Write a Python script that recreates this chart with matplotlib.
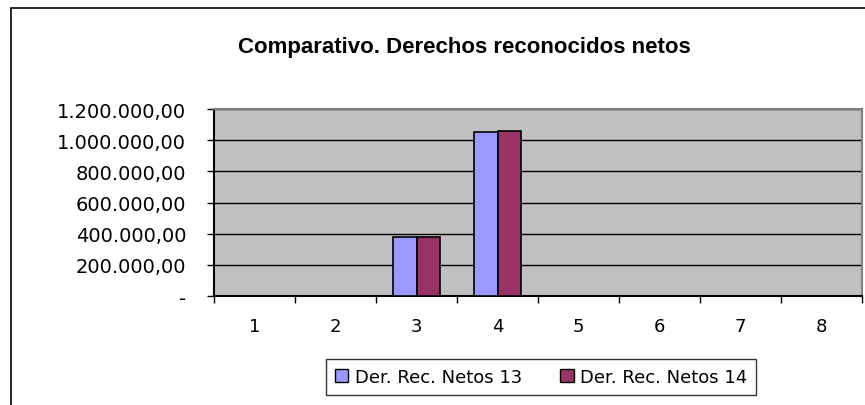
import numpy as np
import matplotlib
matplotlib.use("Agg")
import matplotlib.pyplot as plt
from matplotlib.patches import Rectangle, Patch
from matplotlib.ticker import FuncFormatter

categories = ["1", "2", "3", "4", "5", "6", "7", "8"]
netos13 = [0, 0, 376000, 1054000, 0, 0, 0, 0]
netos14 = [0, 0, 378000, 1059000, 0, 0, 0, 0]
series_names = ["Der. Rec. Netos 13", "Der. Rec. Netos 14"]
y_ticks = [0, 200000, 400000, 600000, 800000, 1000000, 1200000]


def es_fmt(v, pos=None):
    if v == 0:
        return "-"
    s = f"{v:,.2f}"
    return s.replace(",", "X").replace(".", ",").replace("X", ".")


fig = plt.figure(figsize=(8.65, 4.06), dpi=100)
fig.patch.set_facecolor("white")

# outer chart frame (cut off on the right and bottom)
top = 1 - 9 / 406
fig.patches.append(Rectangle((11 / 865, -0.2), 1.2, top + 0.2,
                             transform=fig.transFigure, fill=False,
                             edgecolor="black", linewidth=1.2))

ax = fig.add_axes([214 / 865, 1 - 297 / 406, (862 - 214) / 865, (297 - 110) / 406])
ax.set_facecolor("#C0C0C0")

x = np.arange(len(categories))
w = 0.286
ax.bar(x - w / 2, netos13, w, color="#9999FF", edgecolor="black", linewidth=1.2, zorder=3)
ax.bar(x + w / 2, netos14, w, color="#993366", edgecolor="black", linewidth=1.2, zorder=3)

ax.set_xlim(-0.5, len(categories) - 0.5)
ax.set_ylim(0, 1200000)
ax.set_yticks(y_ticks)
ax.yaxis.set_major_formatter(FuncFormatter(es_fmt))
ax.yaxis.grid(True, color="black", linewidth=1)
ax.set_axisbelow(True)

ax.set_xticks(x)
ax.set_xticklabels(categories)
ax.set_xticks(np.arange(len(categories) + 1) - 0.5, minor=True)
ax.tick_params(axis="x", which="major", length=0, pad=15, labelsize=13)
ax.tick_params(axis="x", which="minor", length=5, width=1, color="black")
ax.tick_params(axis="y", length=5, width=1, pad=15, labelsize=14)

ax.spines["left"].set_color("black")
ax.spines["bottom"].set_color("black")
ax.spines["top"].set_color("#808080")
ax.spines["right"].set_color("#808080")
for s in ax.spines.values():
    s.set_linewidth(1.5)

fig.text(464 / 865, 1 - 48 / 406, "Comparativo. Derechos reconocidos netos",
         ha="center", va="center", fontsize=16, fontweight="bold",
         family="Liberation Sans")

handles = [Patch(facecolor="#9999FF", edgecolor="black"),
           Patch(facecolor="#993366", edgecolor="black")]
leg = fig.legend(handles, series_names, loc="center",
                 bbox_to_anchor=(541 / 865, 1 - 378 / 406), ncol=2,
                 fontsize=13, frameon=True, fancybox=False,
                 handlelength=0.75, handleheight=0.75, handletextpad=0.35,
                 columnspacing=2.1, borderpad=0.5)
leg.get_frame().set_edgecolor("black")
leg.get_frame().set_linewidth(1)

fig.savefig("out.png", dpi=100)
